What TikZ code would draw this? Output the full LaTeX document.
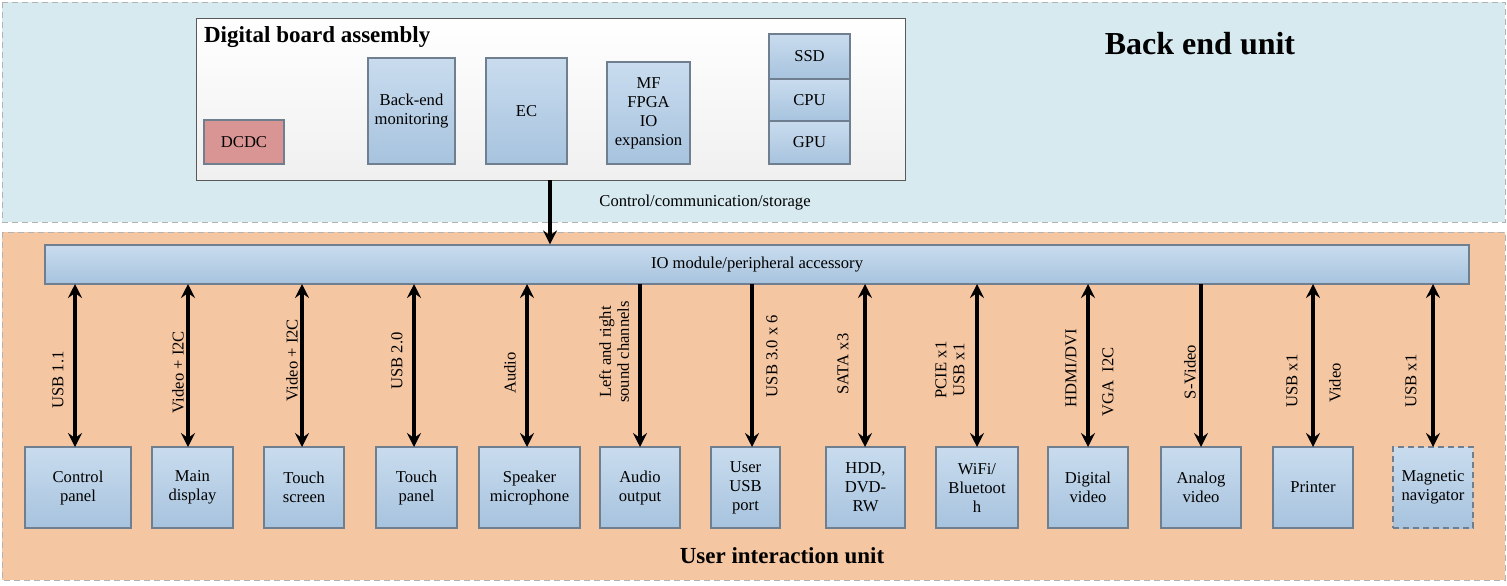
\documentclass[tikz,border=0pt]{standalone}
\usepackage{fontspec}
\setmainfont{Liberation Serif}
\usetikzlibrary{arrows.meta}
\definecolor{backblue}{HTML}{D7EAF0}
\definecolor{userorange}{HTML}{F5C6A2}
\definecolor{boxtop}{HTML}{C9DCEE}
\definecolor{boxbot}{HTML}{A7C3DE}
\definecolor{boxline}{HTML}{6F7F8F}
\definecolor{dcdcred}{HTML}{D99594}
\tikzset{
  unitbox/.style={draw=gray!60, densely dashed, line width=0.4pt},
  blk/.style={draw=boxline, top color=boxtop, bottom color=boxbot, line width=0.6pt, align=center, font=\fontsize{8.3}{9.5}\selectfont},
  lbl/.style={rotate=90, align=center, font=\fontsize{8.3}{9}\selectfont},
  link/.style={line width=2pt, -{Stealth[length=7pt,width=7pt,inset=2.5pt]}},
  blink/.style={line width=2pt, {Stealth[length=7pt,width=7pt,inset=2.5pt]}-{Stealth[length=7pt,width=7pt,inset=2.5pt]}}
}
\begin{document}
\begin{tikzpicture}[x=0.5pt,y=-0.5pt]
    \useasboundingbox (0,0) rectangle (1507,585);
    % units
    \fill[backblue] (2,2) rectangle (1505,222);
    \draw[unitbox] (2,2) rectangle (1505,222);
    \fill[userorange] (2,232) rectangle (1505,580);
    \draw[unitbox] (2,232) rectangle (1505,580);
    \node[font=\fontsize{16}{19}\selectfont\bfseries] at (1200,44) {Back end unit};
    \node[font=\fontsize{11.5}{13}\selectfont\bfseries] at (782,556) {User interaction unit};
    % digital board
    \draw[gray!70!black, top color=white, bottom color=gray!12] (196,18) rectangle (905,180);
    \node[anchor=west, font=\fontsize{11.5}{13}\selectfont\bfseries] at (197,37) {Digital board assembly};
    \node[blk, fill=dcdcred, top color=dcdcred, bottom color=dcdcred, minimum width=40pt, minimum height=22pt] (dcdc) at (244,142) {DCDC};
    \node[blk, minimum width=41.5pt, minimum height=53pt] (mon) at (411.5,111) {Back-end\\monitoring};
    \node[blk, minimum width=40.5pt, minimum height=53pt] (ec) at (526.5,111) {EC};
    \node[blk, minimum width=41.5pt, minimum height=51pt] (fpga) at (648.5,113) {MF\\FPGA\\IO\\expansion};
    \node[blk, minimum width=40.5pt, minimum height=22.5pt] (ssd) at (809.5,56.5) {SSD};
    \node[blk, minimum width=40.5pt, minimum height=21pt] (cpu) at (809.5,100) {CPU};
    \node[blk, minimum width=40.5pt, minimum height=21.5pt] (gpu) at (809.5,142.5) {GPU};
    % io module
    \node[blk, minimum width=712pt, minimum height=19.5pt] (io) at (757,264.5) {IO module/peripheral accessory};
    \coordinate (dbout) at (550,180);
    \draw[link] (dbout) -- (dbout |- io.north);
    \node[font=\fontsize{8.3}{9.5}\selectfont] at (705,203) {Control/communication/storage};
    % peripherals
    \foreach \nm/\cx/\w/\txt in {
        cp/78/53/{Control\\panel}, md/192.5/40.5/{Main\\display}, ts/304/40/{Touch\\screen},
        tp/416.5/40.5/{Touch\\panel}, sp/529.5/50.5/{Speaker\\microphone}, ao/640/40/{Audio\\output},
        uu/745.5/34.5/{User\\USB\\port}, hdd/865.5/39.5/{HDD,\\DVD-\\RW}, wifi/977/41/{WiFi/\\Bluetoot\\h},
        dv/1088/40/{Digital\\video}, av/1201/40/{Analog\\video}, pr/1313/40/{Printer}}
        \node[blk, minimum width=\w pt, minimum height=40.5pt] (\nm) at (\cx,487.5) {\txt};
    \node[blk, densely dashed, minimum width=40pt, minimum height=40.5pt] (mn) at (1433,487.5) {Magnetic\\navigator};
    % links
    \foreach \nm/\ax in {cp/75, md/188, ts/302, tp/414, sp/527, hdd/865, wifi/977, dv/1088, pr/1313, mn/1433}
        \draw[blink] (\ax,284) -- (\ax,447);
    \foreach \nm/\ax in {ao/640, uu/752, av/1201}
        \draw[link] (\ax,284) -- (\ax,447);
    % labels
    \node[lbl] at (58,380) {USB 1.1};
    \node[lbl] at (178,372) {Video + I2C};
    \node[lbl] at (292,360) {Video + I2C};
    \node[lbl] at (397,361) {USB 2.0};
    \node[lbl] at (510,373) {Audio};
    \node[lbl] at (614,352) {Left and right\\sound channels};
    \node[lbl] at (772,356) {USB 3.0 x 6};
    \node[lbl] at (843,364) {SATA x3};
    \node[lbl] at (950,370) {PCIE x1\\USB x1};
    \node[lbl] at (1071,368) {HDMI/DVI};
    \node[lbl] at (1108,382) {VGA \ I2C};
    \node[lbl] at (1190,372) {S-Video};
    \node[lbl] at (1292,381) {USB x1};
    \node[lbl] at (1335,383) {Video};
    \node[lbl] at (1411,381) {USB x1};
\end{tikzpicture}
\end{document}
